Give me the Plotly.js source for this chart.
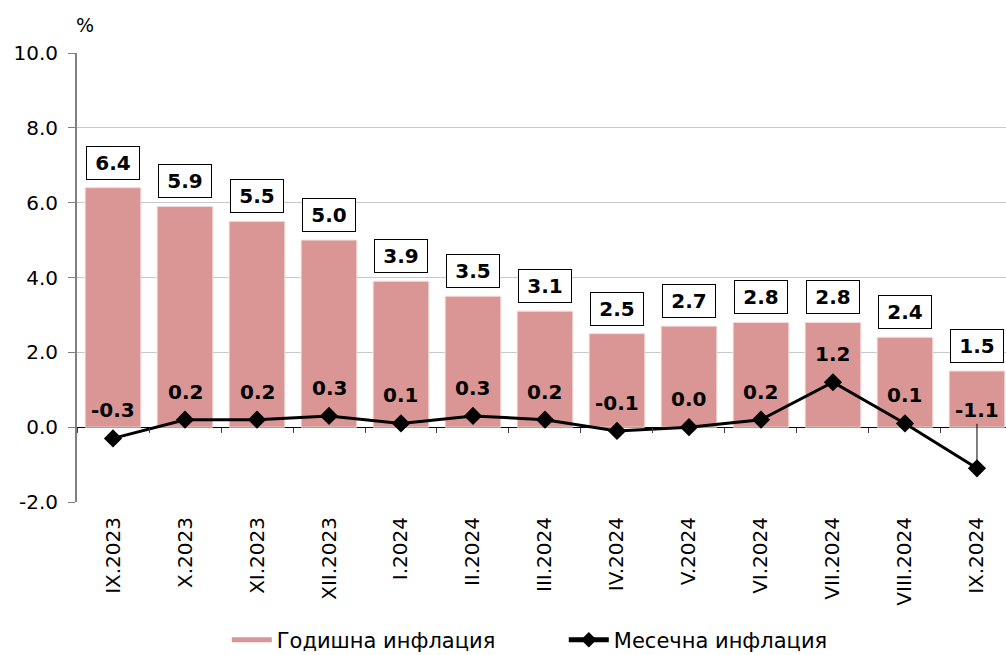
<!DOCTYPE html>
<html>
<head>
<meta charset="utf-8">
<script src="https://cdn.plot.ly/plotly-3.0.1.min.js"></script>
<style>html,body{margin:0;padding:0;background:#fff;}#chart{width:1006px;height:655px;}</style>
</head>
<body>
<div id="chart"></div>
<script>
const categories = ["IX.2023","X.2023","XI.2023","XII.2023","I.2024","II.2024","III.2024","IV.2024","V.2024","VI.2024","VII.2024","VIII.2024","IX.2024"];
const annualInflation = [6.4, 5.9, 5.5, 5.0, 3.9, 3.5, 3.1, 2.5, 2.7, 2.8, 2.8, 2.4, 1.5];
const monthlyInflation = [-0.3, 0.2, 0.2, 0.3, 0.1, 0.3, 0.2, -0.1, 0.0, 0.2, 1.2, 0.1, -1.1];
const yTickValues = [-2, 0, 2, 4, 6, 8, 10];
const yTickLabels = ["-2.0", "0.0", "2.0", "4.0", "6.0", "8.0", "10.0"];
const seriesNames = ["Годишна инфлация", "Месечна инфлация"];
const unitLabel = "%";

const FONT = "DejaVu Sans, Verdana, sans-serif";
const xRange = [-0.5, 12.403];
const BAR_COLOR = "#D99694";

const bars = {
  type: "bar",
  name: seriesNames[0],
  x: categories,
  y: annualInflation,
  xaxis: "x",
  yaxis: "y",
  showlegend: false,
  marker: {color: BAR_COLOR, line: {color: "#F2DCDB", width: 1}},
  hoverinfo: "x+y"
};
// legend-only entry so the swatch is a wide rectangle, as in the reference
const barLegend = {
  type: "scatter",
  mode: "lines",
  name: seriesNames[0],
  x: [null], y: [null],
  xaxis: "x", yaxis: "y",
  line: {color: BAR_COLOR, width: 14},
  hoverinfo: "skip"
};
const line = {
  type: "scatter",
  mode: "lines+markers",
  name: seriesNames[1],
  x: categories,
  y: monthlyInflation,
  xaxis: "x2",
  yaxis: "y",
  line: {color: "#000000", width: 3},
  marker: {symbol: "diamond", size: 14, color: "#000000"},
  hoverinfo: "x+y"
};

const annotations = [];
categories.forEach((c, i) => {
  annotations.push({
    x: c, y: annualInflation[i], xref: "x", yref: "y",
    text: annualInflation[i].toFixed(1),
    showarrow: false, yanchor: "bottom", yshift: 8,
    bgcolor: "#ffffff", bordercolor: "#000000", borderwidth: 1,
    borderpad: 4, width: 44, height: 24,
    font: {family: FONT, size: 20, weight: "bold", color: "#000"}
  });
  const v = monthlyInflation[i];
  if (v < -0.5) {
    annotations.push({
      x: c, y: v, xref: "x", yref: "y",
      text: v.toFixed(1),
      showarrow: true, ax: 0, ay: -58, arrowhead: 0, arrowwidth: 1,
      arrowcolor: "#000000", standoff: 0,
      font: {family: FONT, size: 20, weight: "bold", color: "#000"}
    });
  } else {
    annotations.push({
      x: c, y: v, xref: "x", yref: "y",
      text: v.toFixed(1),
      showarrow: false, yanchor: "middle", yshift: 28,
      font: {family: FONT, size: 20, weight: "bold", color: "#000"}
    });
  }
});
annotations.push({
  xref: "paper", yref: "paper", x: 0.009, y: 1.062,
  xanchor: "center", yanchor: "middle",
  text: unitLabel, showarrow: false,
  font: {family: FONT, size: 19, color: "#000"}
});

const layout = {
  width: 1006, height: 655,
  margin: {l: 77, r: 0, t: 53, b: 153},
  paper_bgcolor: "#ffffff", plot_bgcolor: "#ffffff",
  font: {family: FONT, size: 19, color: "#000"},
  bargap: 0.227,
  showlegend: true,
  legend: {
    orientation: "h", xref: "paper", yref: "container",
    x: 0.524, xanchor: "center", y: 0.054, yanchor: "top",
    font: {family: FONT, size: 21, color: "#000"},
    entrywidth: 282, entrywidthmode: "pixels",
    itemsizing: "constant",
    itemwidth: 40, tracegroupgap: 0
  },
  xaxis: {
    type: "category", range: xRange, automargin: false,
    showgrid: false, zeroline: false, showline: false,
    ticks: "", tickangle: -90, ticklabelstandoff: 10,
    tickfont: {family: FONT, size: 20, color: "#000"}
  },
  xaxis2: {
    type: "category", range: xRange, overlaying: "x",
    anchor: "free", position: 2/12, automargin: false,
    showgrid: false, zeroline: false, showline: false,
    ticks: "outside", tickson: "boundaries", ticklen: 5, tickwidth: 1, tickcolor: "#404040",
    showticklabels: false
  },
  yaxis: {
    range: [-2, 10], tickmode: "array", tickvals: yTickValues, ticktext: yTickLabels,
    automargin: false,
    showgrid: true, gridcolor: "#c8c8c8", gridwidth: 1,
    zeroline: true, zerolinecolor: "#000000", zerolinewidth: 1,
    showline: true, linecolor: "#808080", linewidth: 2,
    ticks: "outside", ticklen: 7, tickcolor: "#808080", tickwidth: 1,
    ticklabelstandoff: 6,
    tickfont: {family: FONT, size: 20, color: "#000"}
  },
  annotations: annotations
};

Plotly.newPlot("chart", [bars, barLegend, line], layout, {displayModeBar: false, staticPlot: true});
</script>
</body>
</html>
